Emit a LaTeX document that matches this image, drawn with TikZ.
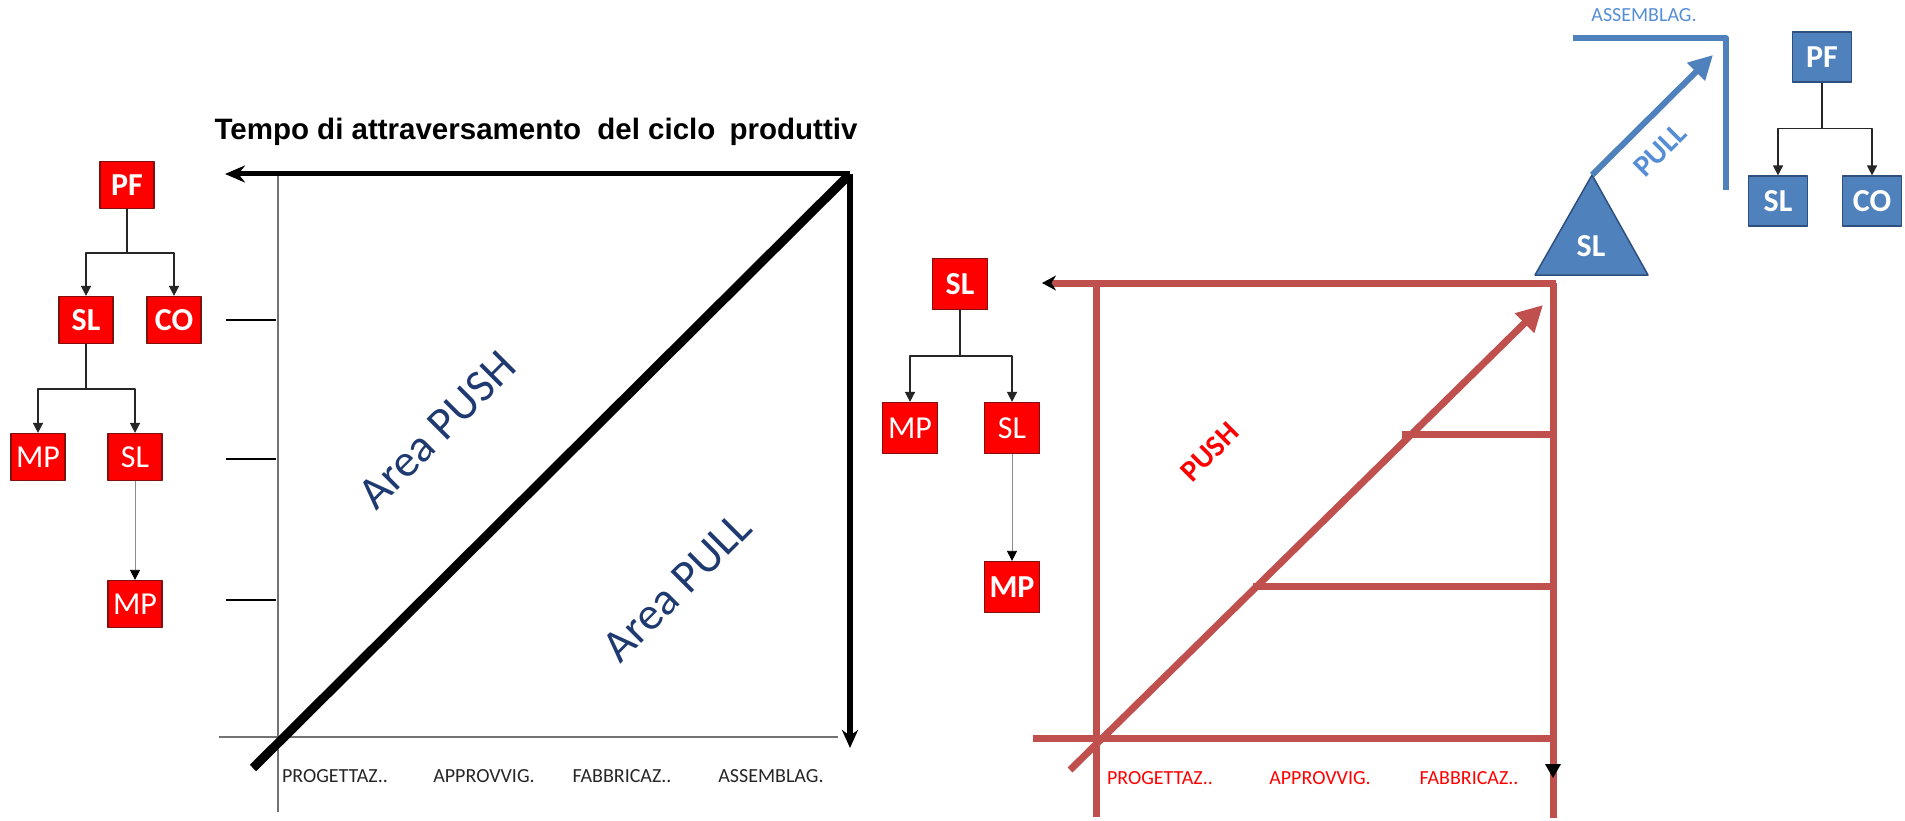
\documentclass[tikz,border=0pt]{standalone}
\usepackage{fontspec}
\setmainfont{Carlito}
\newfontfamily\arialfont{Liberation Sans}
\usetikzlibrary{arrows.meta}
\definecolor{boxred}{HTML}{FF0000}
\definecolor{boxredline}{HTML}{7F1010}
\definecolor{linered}{HTML}{C0504D}
\definecolor{boxblue}{HTML}{4F81BD}
\definecolor{boxblueline}{HTML}{2F4F7F}
\definecolor{lineblue}{HTML}{4F81BD}
\definecolor{textblue}{HTML}{558ED5}
\definecolor{navy}{HTML}{1F3A70}
\begin{document}
\begin{tikzpicture}[x=1pt, y=-1pt, line join=round,
  rbox/.style={draw=boxredline, line width=1.2pt, fill=boxred, text=white, minimum width=54pt, minimum height=47pt, inner sep=0pt, font=\fontsize{32}{36}\selectfont},
  rboxb/.style={rbox, font=\fontsize{32}{36}\selectfont\bfseries},
  mbox/.style={rbox, minimum width=55pt, minimum height=51pt},
  mboxb/.style={mbox, font=\fontsize{32}{36}\selectfont\bfseries},
  bbox/.style={rbox, draw=boxblueline, fill=boxblue, minimum width=59pt, minimum height=50pt, font=\fontsize{32}{36}\selectfont\bfseries},
  conn/.style={draw=black!85, line width=1.5pt, -{Triangle[length=10pt,width=10pt]}},
  thinconn/.style={draw=black!45, line width=0.8pt, -{Triangle[length=10pt,width=10pt,color=black]}},
  thinax/.style={draw=black!55, line width=1.5pt},
  redln/.style={draw=linered, line width=7pt},
  blueln/.style={draw=lineblue, line width=6pt},
  axlab/.style={font=\fontsize{20}{24}\selectfont, text=black!85},
  redlab/.style={font=\fontsize{20}{24}\selectfont, text=boxred},
  area/.style={font=\fontsize{46}{50}\selectfont, text=navy, rotate=45}]
\useasboundingbox (0,0) rectangle (1905,821);
% title
\node[anchor=west, font=\arialfont\bfseries\fontsize{29.5}{33}\selectfont] (title) at (211,132) {Tempo di attraversamento\hspace{8pt} del ciclo\hspace{6pt} produttiv};
% left tree
\node[rboxb] (pf) at (127,185) {PF};
\node[rboxb] (slA) at (86,320) {SL};
\node[rboxb] (co) at (174,320) {CO};
\node[rbox] (mpA) at (38,457) {MP};
\node[rbox] (slB) at (135,457) {SL};
\node[rbox] (mpB) at (135,604) {MP};
\draw[conn] (pf.south) -- ++(0,44) -| (slA.north);
\draw[conn] (pf.south) -- ++(0,44) -| (co.north);
\draw[conn] (slA.south) -- ++(0,45) -| (mpA.north);
\draw[conn] (slA.south) -- ++(0,45) -| (slB.north);
\draw[thinconn] (slB.south) -- (mpB.north);
% tempo chart
\coordinate (tr) at (850,174);
\draw[thinax] (278,174) -- (278,812);
\draw[thinax] (219,737) -- (838,737);
\foreach \y in {320,459,600}
  \draw[line width=2pt] (226,\y) -- (276,\y);
\draw[line width=5pt, -{Stealth[length=20pt,width=17pt]}] (tr) -- (225,174);
\draw[line width=6pt, -{Stealth[length=18pt,width=16pt]}] (tr) -- (850,748);
\draw[line width=9pt] (253,768) -- (tr);
\node[area] (push) at (437,430) {Area PUSH};
\node[area] (pull) at (677,587) {Area PULL};
\foreach \x/\t in {335/PROGETTAZ..,484/APPROVVIG.,622/FABBRICAZ..,771/ASSEMBLAG.}
  \node[axlab] (l\x) at (\x,776) {\t};
% middle tree
\node[mboxb] (slM) at (960,284) {SL};
\node[mbox] (mpM) at (910,428) {MP};
\node[mbox] (slN) at (1012,428) {SL};
\node[mboxb] (mpN) at (1012,587) {MP};
\draw[conn] (slM.south) -- ++(0,46) -| (mpM.north);
\draw[conn] (slM.south) -- ++(0,46) -| (slN.north);
\draw[thinconn] (slN.south) -- (mpN.north);
% push chart
\draw[redln] (1096,283) -- (1096,817);
\draw[redln] (1553,283) -- (1553,818);
\draw[redln] (1033,738) -- (1553,738);
\draw[redln] (1253,586) -- (1553,586);
\draw[redln] (1402,434) -- (1553,434);
\draw[redln, -{Stealth[length=14pt,width=15pt,color=black]}] (1556,283) -- (1042,283);
\draw[redln, -{Triangle[length=26pt,width=26pt]}] (1070,770) -- (1543,305);
\fill (1545,764) -- (1561,764) -- (1553,778) -- cycle;
\node[font=\fontsize{30}{34}\selectfont\bfseries, text=boxred, rotate=45] (pushR) at (1210,452) {PUSH};
\foreach \x/\t in {1160/PROGETTAZ..,1320/APPROVVIG.,1469/FABBRICAZ..}
  \node[redlab] (r\x) at (\x,778) {\t};
% pull corner
\coordinate (apex) at (1592,175);
\filldraw[fill=boxblue, draw=boxblueline, line width=1.5pt] (apex) -- (1648,275) -- (1535,275) -- cycle;
\node[font=\fontsize{32}{36}\selectfont\bfseries, text=white] (slT) at (1591,246) {SL};
\draw[blueln, -{Triangle[length=24pt,width=24pt]}] (apex) -- (1713,55);
\draw[blueln] (1573,38) -- (1726,38) -- (1726,190);
\node[font=\fontsize{20}{24}\selectfont, text=textblue] (asm) at (1644,15) {ASSEMBLAG.};
\node[font=\fontsize{30}{34}\selectfont\bfseries, text=textblue, rotate=45] (pullB) at (1660,150) {PULL};
% blue tree
\node[bbox] (pfB) at (1822,57) {PF};
\node[bbox] (slC) at (1778,201) {SL};
\node[bbox] (coB) at (1872,201) {CO};
\draw[conn] (pfB.south) -- ++(0,46) -| (slC.north);
\draw[conn] (pfB.south) -- ++(0,46) -| (coB.north);
\end{tikzpicture}
\end{document}
